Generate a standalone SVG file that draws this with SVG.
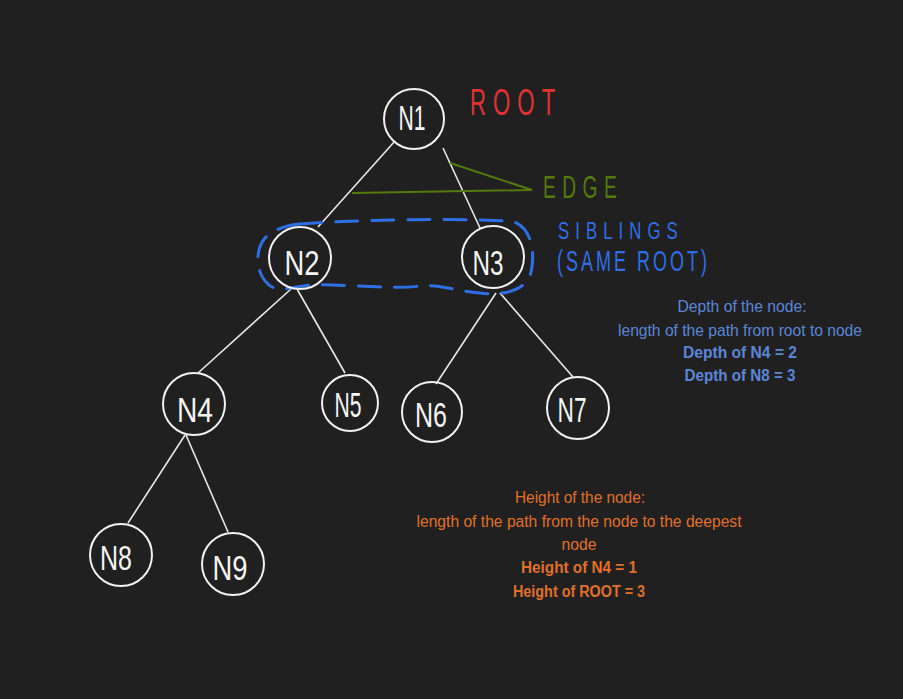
<svg xmlns="http://www.w3.org/2000/svg" width="903" height="699" viewBox="0 0 903 699">
<style>
.node circle{fill:none;stroke:#f2f2f2;stroke-width:2}
.node text{fill:#f5f5f5;font-family:"Liberation Sans",Arial,sans-serif;font-size:35px;text-anchor:middle}
.edge{stroke:#e8e8e8;stroke-width:1.6;fill:none}
.hand{font-family:"Liberation Sans",Arial,sans-serif;font-weight:normal}
.depth{fill:#5b86d8;font-family:"Liberation Sans",Arial,sans-serif;font-size:16px;text-anchor:middle}
.height{fill:#e0702a;font-family:"Liberation Sans",Arial,sans-serif;font-size:16px;text-anchor:middle}
.b{font-weight:bold}
</style>
<rect width="903" height="699" fill="#202020"/>
<g id="connectors">
<line class="edge" x1="395" y1="141" x2="318" y2="227"/>
<line class="edge" x1="443" y1="148" x2="480" y2="228"/>
<line class="edge" x1="291" y1="289" x2="198" y2="373"/>
<line class="edge" x1="297" y1="289" x2="345" y2="373"/>
<line class="edge" x1="496" y1="293" x2="436" y2="384"/>
<line class="edge" x1="500" y1="293" x2="573" y2="377"/>
<line class="edge" x1="185" y1="435" x2="128" y2="523"/>
<line class="edge" x1="186" y1="435" x2="228" y2="532"/>
</g>
<g id="edge-annotation">
<polyline points="352,193 532,190 450,163" fill="none" stroke="#537a0a" stroke-width="2"/>
<text transform="translate(543,198) scale(0.6,1)" class="hand" fill="#537a0a" font-size="32" textLength="123" lengthAdjust="spacing">EDGE</text>
</g>
<g id="root-label">
<text transform="translate(470,115) scale(0.6,1)" class="hand" fill="#e03232" font-size="37" textLength="142" lengthAdjust="spacing">ROOT</text>
</g>
<g id="siblings">
<path d="M 300 224 C 350 220, 450 218, 510 221 C 530 224, 536 250, 531 272 C 527 290, 505 296, 480 293 C 450 290, 440 284, 420 286 C 390 290, 330 283, 310 285 C 290 288, 275 292, 268 284 C 255 272, 255 250, 265 238 C 275 228, 290 225, 300 224 Z" fill="none" stroke="#2f6fe6" stroke-width="3" stroke-dasharray="22 14" stroke-linecap="round"/>
<text transform="translate(558,239) scale(0.7,1)" class="hand" fill="#2f6fe6" font-size="24" textLength="171" lengthAdjust="spacing">SIBLINGS</text>
<text transform="translate(557,271) scale(0.6,1)" class="hand" fill="#2f6fe6" font-size="30" textLength="250" lengthAdjust="spacing">(SAME ROOT)</text>
</g>
<g id="N1" class="node"><circle cx="414" cy="119" r="30"/><text x="412" y="130" textLength="27" lengthAdjust="spacingAndGlyphs">N1</text></g>
<g id="N2" class="node"><circle cx="300" cy="258" r="31"/><text x="302" y="275" textLength="35" lengthAdjust="spacingAndGlyphs">N2</text></g>
<g id="N3" class="node"><circle cx="493" cy="257" r="31"/><text x="488" y="275" textLength="31" lengthAdjust="spacingAndGlyphs">N3</text></g>
<g id="N4" class="node"><circle cx="194" cy="404" r="31"/><text x="195" y="422" textLength="36" lengthAdjust="spacingAndGlyphs">N4</text></g>
<g id="N5" class="node"><circle cx="350" cy="403" r="28"/><text x="348" y="417" font-size="31" textLength="27" lengthAdjust="spacingAndGlyphs">N5</text></g>
<g id="N6" class="node"><circle cx="432" cy="412" r="30"/><text x="431" y="427" font-size="33" textLength="32" lengthAdjust="spacingAndGlyphs">N6</text></g>
<g id="N7" class="node"><circle cx="578" cy="408" r="31"/><text x="572" y="422" textLength="29" lengthAdjust="spacingAndGlyphs">N7</text></g>
<g id="N8" class="node"><circle cx="121" cy="555" r="31"/><text x="116" y="570" font-size="34" textLength="32" lengthAdjust="spacingAndGlyphs">N8</text></g>
<g id="N9" class="node"><circle cx="233" cy="564" r="31"/><text x="230" y="580" textLength="35" lengthAdjust="spacingAndGlyphs">N9</text></g>
<g id="depth-note">
<text x="742" y="312" class="depth" textLength="129" lengthAdjust="spacingAndGlyphs">Depth of the node:</text>
<text x="740" y="336" class="depth" textLength="244" lengthAdjust="spacingAndGlyphs">length of the path from root to node</text>
<text x="740" y="358" class="depth b" textLength="114" lengthAdjust="spacingAndGlyphs">Depth of N4  = 2</text>
<text x="740" y="381" class="depth b" textLength="111" lengthAdjust="spacingAndGlyphs">Depth of N8 = 3</text>
</g>
<g id="height-note">
<text x="580" y="503" class="height" textLength="130" lengthAdjust="spacingAndGlyphs">Height of the node:</text>
<text x="579" y="527" class="height" textLength="325" lengthAdjust="spacingAndGlyphs">length of the path from the node to the deepest</text>
<text x="579" y="550" class="height" textLength="35" lengthAdjust="spacingAndGlyphs">node</text>
<text x="579" y="573" class="height b" textLength="116" lengthAdjust="spacingAndGlyphs">Height of N4 = 1</text>
<text x="579" y="597" class="height b" textLength="132" lengthAdjust="spacingAndGlyphs">Height of ROOT = 3</text>
</g>
</svg>
